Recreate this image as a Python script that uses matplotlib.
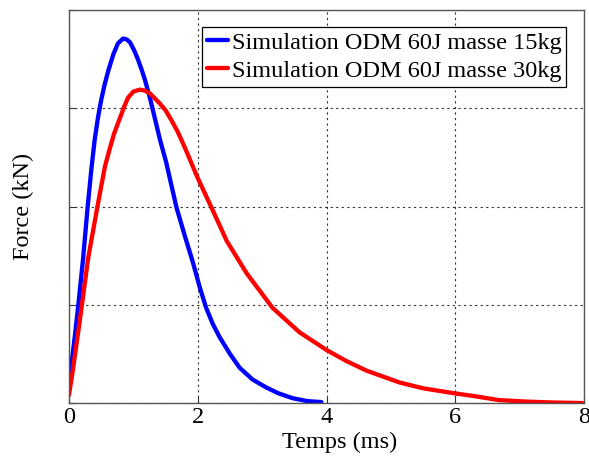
import numpy as np
import matplotlib.pyplot as plt

# valeurs (temps en ms, force en unites de grille)
t_15 = [0.0, 0.05, 0.09, 0.145, 0.22, 0.29, 0.35, 0.40, 0.45, 0.50, 0.55, 0.61, 0.69,
        0.76, 0.84, 0.90, 0.95, 1.02, 1.07, 1.12, 1.18, 1.26, 1.33, 1.41, 1.51, 1.59,
        1.67, 1.8, 1.93, 2.03, 2.13, 2.23, 2.34, 2.5, 2.65, 2.85, 3.06, 3.25, 3.47,
        3.7, 3.92]
f_15 = [0.27, 0.45, 0.67, 0.99, 1.47, 1.99, 2.39, 2.68, 2.90, 3.08, 3.23, 3.38, 3.55,
        3.66, 3.71, 3.70, 3.67, 3.58, 3.50, 3.41, 3.29, 3.10, 2.91, 2.69, 2.45, 2.22,
        1.99, 1.70, 1.42, 1.18, 0.97, 0.81, 0.67, 0.50, 0.36, 0.24, 0.16, 0.10, 0.05,
        0.02, 0.01]

t_30 = [0.0, 0.06, 0.12, 0.20, 0.30, 0.44, 0.56, 0.63, 0.70, 0.78, 0.86, 0.92, 1.00,
        1.10, 1.18, 1.26, 1.41, 1.50, 1.59, 1.69, 1.80, 2.0, 2.22, 2.45, 2.76, 3.16,
        3.58, 4.0, 4.3, 4.62, 5.13, 5.5, 5.98, 6.3, 6.68, 7.1, 7.5, 7.97]
f_30 = [0.08, 0.33, 0.61, 0.99, 1.48, 1.99, 2.41, 2.58, 2.74, 2.88, 3.02, 3.11, 3.17,
        3.19, 3.18, 3.15, 3.05, 2.98, 2.88, 2.76, 2.60, 2.29, 1.98, 1.65, 1.32, 0.97,
        0.72, 0.54, 0.43, 0.33, 0.21, 0.15, 0.10, 0.07, 0.03, 0.015, 0.006, 0.0]

labels = ['Simulation ODM 60J masse 15kg', 'Simulation ODM 60J masse 30kg']
xticks = [0, 2, 4, 6, 8]

plt.rcParams['font.family'] = ['Liberation Serif', 'DejaVu Serif']

fig = plt.figure(figsize=(5.89, 4.57), dpi=100)
ax = fig.add_axes([0.117, 0.118, 0.875, 0.860])

ax.plot(t_15, f_15, color='#0000ff', lw=3.1, label=labels[0],
        solid_joinstyle='round', solid_capstyle='round')
ax.plot(t_30, f_30, color='#ff0000', lw=3.1, label=labels[1],
        solid_joinstyle='round', solid_capstyle='round')

ax.set_xlim(0, 8)
ax.set_ylim(0, 4)
ax.set_xticks(xticks)
ax.set_xticklabels([str(v) for v in xticks])
ax.set_yticks([0, 1, 2, 3, 4])
ax.set_yticklabels([])
ax.tick_params(direction='in', length=4, labelsize=17.5, colors='#333333',
               labelcolor='black', pad=3)
ax.grid(True, color='#333333', linestyle=(0, (2, 3)), linewidth=0.8)
for s in ax.spines.values():
    s.set_color('#555555')
    s.set_linewidth(1.0)

ax.set_xlabel('Temps (ms)', fontsize=17.5)
ax.set_ylabel('Force (kN)', fontsize=17.5)
ax.xaxis.set_label_coords(0.525, -0.072)
ax.yaxis.set_label_coords(-0.068, 0.5)

leg = ax.legend(loc='upper right', bbox_to_anchor=(0.965, 0.957), fontsize=17.5,
                handlelength=0.85, handletextpad=0.15, borderpad=0.2, labelspacing=0.25,
                fancybox=False, framealpha=1, borderaxespad=0)
leg.get_frame().set_edgecolor('black')
leg.get_frame().set_linewidth(0.9)

fig.savefig('out.png', dpi=100)
